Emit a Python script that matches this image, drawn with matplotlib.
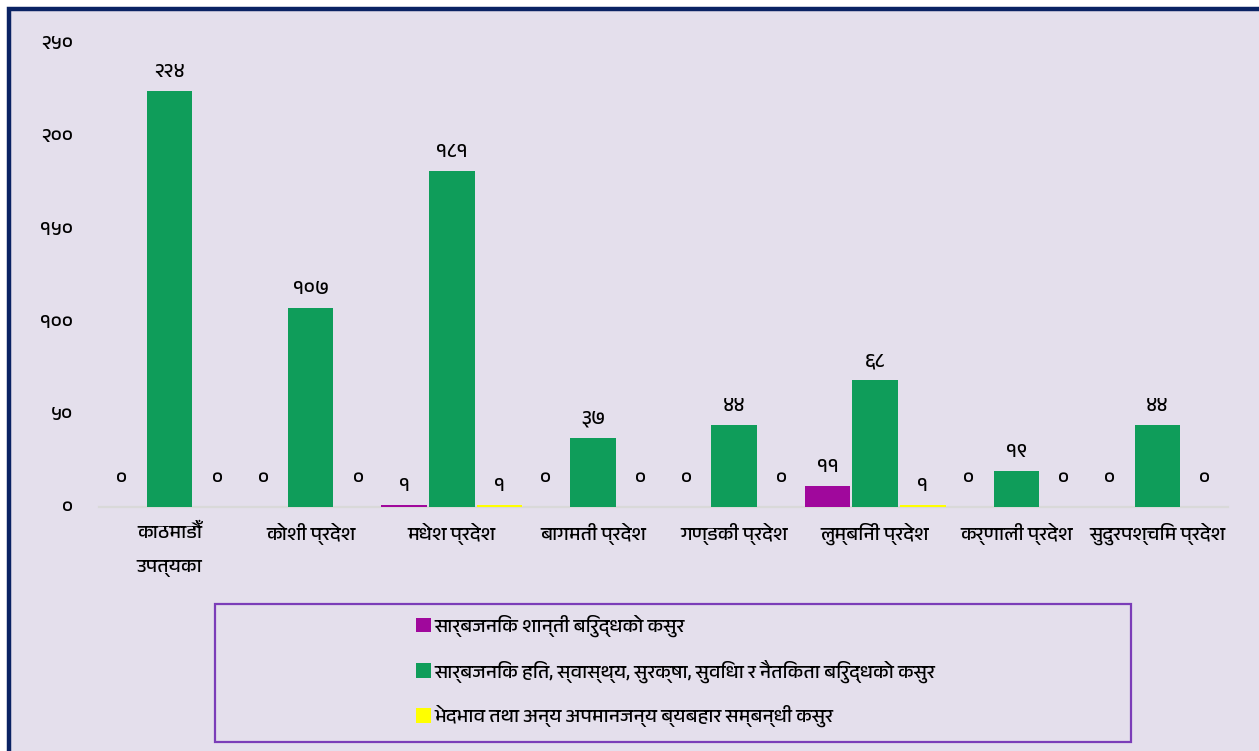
import matplotlib
matplotlib.use("Agg")
import matplotlib.pyplot as plt
import matplotlib.font_manager as fm
from matplotlib import ft2font
from matplotlib.patches import Rectangle, Patch
import numpy as np

# ---------------- data ----------------
categories = ['काठमाडौँ\nउपत्यका', 'कोशी प्रदेश', 'मधेश प्रदेश', 'बागमती प्रदेश',
              'गण्डकी प्रदेश', 'लुम्बिनी प्रदेश', 'कर्णाली प्रदेश', 'सुदुरपश्चिम प्रदेश']
series_names = ['सार्बजनिक शान्ती बिरुद्धको कसुर',
                'सार्बजनिक हित, स्वास्थ्य, सुरक्षा, सुविधा र नैतिकता बिरुद्धको कसुर',
                'भेदभाव तथा अन्य अपमानजन्य ब्यबहार सम्बन्धी कसुर']
public_peace = [0, 0, 1, 0, 0, 11, 0, 0]
public_welfare = [224, 107, 181, 37, 44, 68, 19, 44]
discrimination = [0, 0, 1, 0, 0, 1, 0, 0]
y_ticks = [0, 50, 100, 150, 200, 250]

colors = ['#A0089C', '#0F9D5A', '#FFFF00']

# ---------------- font ----------------
def find_devanagari():
    cands = []
    for f in fm.fontManager.ttflist:
        try:
            cm = ft2font.FT2Font(f.fname).get_charmap()
        except Exception:
            continue
        if 0x0915 in cm and 0x0967 in cm:
            cands.append(f.name)
    if not cands:
        return None
    for c in cands:
        if 'Devanagari' in c or 'Mangal' in c:
            return c
    return cands[0]

deva = find_devanagari()
FAM = [deva, 'DejaVu Sans'] if deva else ['DejaVu Sans']
plt.rcParams['font.family'] = FAM

DIG = str.maketrans('0123456789', '०१२३४५६७८९')
def dn(v):
    return str(v).translate(DIG)

# ---------------- figure ----------------
W, H = 1259, 751
fig = plt.figure(figsize=(W / 100, H / 100), dpi=100, facecolor='white')

def fx(px):
    return px / W

def fy(py):
    return 1 - py / H

# outer framed panel (extends past right/bottom edge)
fig.patches.append(Rectangle((fx(9), fy(760)), fx(1262) - fx(9), fy(9) - fy(760),
                             transform=fig.transFigure, facecolor='#E4DFEC',
                             edgecolor='#0A2263', linewidth=3.2, zorder=-5))

ax = fig.add_axes([fx(99), fy(506.5), fx(1228) - fx(99), fy(42.8) - fy(506.5)])
ax.set_facecolor('none')
ax.set_zorder(2)

x = np.arange(len(categories))
w = 0.323
step = 0.337
all_series = [public_peace, public_welfare, discrimination]
for i, (vals, col) in enumerate(zip(all_series, colors)):
    pos = x + (i - 1) * step
    bars = ax.bar(pos, vals, width=w, color=col, linewidth=0, zorder=2)
    for xp, v in zip(pos, vals):
        ax.annotate(dn(v), (xp, v), xytext=(0, 8 if v > 0 else 14),
                    textcoords='offset points', ha='center', va='bottom',
                    fontsize=14.5, color='black', family=FAM)

ax.set_xlim(-0.5, len(categories) - 0.5)
ax.set_ylim(0, 250)
ax.set_yticks(y_ticks)
ax.set_yticklabels([dn(t) for t in y_ticks], fontsize=14.5, family=FAM)
ax.set_xticks(x)
ax.set_xticklabels(categories, fontsize=14, family=FAM, linespacing=2.35)
ax.tick_params(axis='y', length=0, pad=18.5)
ax.tick_params(axis='x', length=0, pad=12)
for s in ['left', 'right', 'top']:
    ax.spines[s].set_visible(False)
ax.spines['bottom'].set_color('#D9D9D9')
ax.spines['bottom'].set_linewidth(1.6)
ax.spines['bottom'].set_zorder(1)

# legend box
fig.patches.append(Rectangle((fx(215), fy(742)), fx(1131) - fx(215), fy(604) - fy(742),
                             transform=fig.transFigure, facecolor='none',
                             edgecolor='#7B3DB8', linewidth=1.6, zorder=1))
handles = [Patch(facecolor=c, edgecolor='none') for c in colors]
leg = fig.legend(handles, series_names, loc='upper left',
                 bbox_to_anchor=(fx(408), fy(607)), frameon=False,
                 prop={'family': FAM, 'size': 14}, handlelength=0.8, handleheight=0.8,
                 handletextpad=0.15, labelspacing=1.15, borderaxespad=0)

fig.savefig('out.png', dpi=100, facecolor='white')
